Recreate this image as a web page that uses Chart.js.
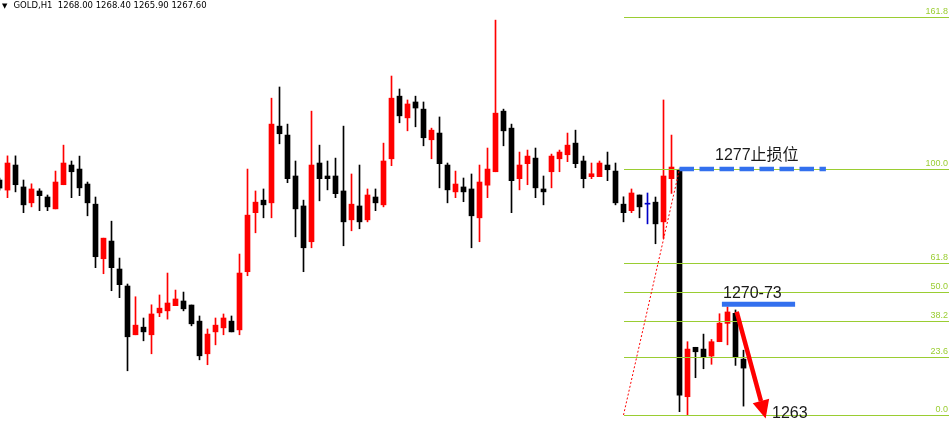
<!DOCTYPE html>
<html>
<head>
<meta charset="utf-8">
<title>GOLD,H1</title>
<script src="https://cdn.jsdelivr.net/npm/chart.js@4.4.0/dist/chart.umd.min.js"></script>
<style>
  html, body { margin: 0; padding: 0; background: #fff; }
  #wrap { position: relative; width: 949px; height: 424px; overflow: hidden; }
  #header { position: absolute; left: 2px; top: 0; font: 8.5px "DejaVu Sans", sans-serif; line-height: 11px; color: #000; white-space: pre; }
  #header .tri { font-size: 7px; margin-right: 6px; }
</style>
</head>
<body>
<div id="wrap">
  <canvas id="chart" width="949" height="424"></canvas>
  <div id="header"><span class="tri">▼</span>GOLD,H1  1268.00 1268.40 1265.90 1267.60</div>
</div>
<script>
// Bougies H1, index 0 = bougie coupée au bord gauche
const opens = [
  1276.01, 1275.56, 1276.68, 1275.70, 1274.99, 1275.52, 1275.25, 1274.72, 1275.80, 1276.68,
  1276.50, 1275.83, 1274.93, 1272.49, 1273.28, 1272.03, 1271.27, 1269.09, 1269.43, 1269.09,
  1270.07, 1270.16, 1270.39, 1270.60, 1270.42, 1269.70, 1268.24, 1269.22, 1269.40, 1269.70,
  1269.31, 1271.91, 1274.55, 1275.11, 1274.99, 1278.42, 1278.02, 1276.19, 1274.85, 1273.25,
  1276.77, 1276.19, 1276.19, 1275.52, 1274.23, 1274.85, 1274.23, 1275.25, 1274.90, 1276.96,
  1279.76, 1278.79, 1279.50, 1279.18, 1277.81, 1278.11, 1276.68, 1275.48, 1275.70, 1275.61,
  1274.32, 1275.78, 1276.38, 1279.09, 1278.33, 1276.07, 1276.74, 1276.99, 1275.61, 1276.38,
  1276.96, 1277.14, 1277.66, 1276.86, 1276.16, 1276.16, 1276.68, 1276.41, 1274.93, 1274.64,
  1275.34, 1274.93, 1275.02, 1274.14, 1276.07, 1276.46, 1266.32, 1268.53, 1268.45, 1268.14,
  1268.78, 1269.60, 1270.05, 1268.00
];
const highs = [
  1276.10, 1277.09, 1277.09, 1276.01, 1275.84, 1275.62, 1275.34, 1276.41, 1277.57, 1276.86,
  1277.08, 1275.92, 1275.25, 1273.41, 1274.17, 1272.52, 1271.36, 1270.79, 1269.84, 1270.43,
  1270.87, 1271.85, 1271.09, 1271.00, 1270.42, 1269.93, 1269.35, 1269.84, 1270.02, 1269.93,
  1272.70, 1276.50, 1275.52, 1275.61, 1279.67, 1280.17, 1278.51, 1276.86, 1275.11, 1279.09,
  1277.57, 1276.86, 1276.99, 1278.42, 1276.28, 1276.68, 1275.61, 1275.61, 1277.66, 1280.66,
  1280.08, 1279.59, 1279.76, 1279.50, 1278.33, 1278.83, 1276.77, 1276.41, 1276.10, 1276.28,
  1276.68, 1277.44, 1283.16, 1279.18, 1278.51, 1277.26, 1277.35, 1277.44, 1276.19, 1277.17,
  1277.35, 1278.11, 1278.24, 1277.08, 1276.77, 1276.86, 1277.26, 1276.77, 1275.26, 1275.61,
  1275.34, 1275.43, 1275.25, 1279.59, 1278.02, 1276.50, 1268.78, 1268.53, 1269.12, 1268.88,
  1270.03, 1270.34, 1270.20, 1268.40
];
const lows = [
  1275.56, 1275.22, 1275.48, 1274.55, 1274.81, 1274.64, 1274.64, 1274.72, 1275.80, 1275.22,
  1275.31, 1274.41, 1272.09, 1271.82, 1271.06, 1270.75, 1267.48, 1269.09, 1268.82, 1268.24,
  1269.90, 1269.79, 1270.39, 1270.16, 1269.49, 1267.97, 1267.75, 1268.64, 1269.09, 1269.22,
  1269.09, 1271.73, 1273.65, 1274.32, 1274.32, 1277.63, 1275.89, 1273.47, 1271.91, 1272.98,
  1275.08, 1275.57, 1275.22, 1273.07, 1273.74, 1273.83, 1274.14, 1274.64, 1274.81, 1276.65,
  1278.57, 1278.21, 1278.39, 1277.54, 1276.96, 1275.66, 1274.99, 1275.22, 1275.04, 1272.98,
  1273.25, 1275.22, 1276.38, 1277.54, 1274.55, 1275.57, 1275.80, 1275.22, 1274.90, 1275.66,
  1276.38, 1276.83, 1276.56, 1275.66, 1276.07, 1276.16, 1275.98, 1274.90, 1274.14, 1274.55,
  1274.32, 1274.05, 1273.16, 1273.40, 1275.41, 1265.65, 1265.50, 1267.17, 1267.57, 1267.77,
  1268.78, 1268.64, 1267.72, 1265.90
];
const closes = [
  1275.65, 1276.77, 1275.80, 1274.90, 1275.61, 1275.31, 1274.81, 1275.92, 1276.77, 1276.38,
  1275.66, 1274.99, 1272.58, 1273.41, 1272.09, 1271.33, 1269.00, 1269.52, 1269.22, 1270.02,
  1270.28, 1270.51, 1270.69, 1270.25, 1269.58, 1268.15, 1269.12, 1269.52, 1269.84, 1269.22,
  1271.85, 1274.44, 1275.02, 1274.90, 1278.51, 1278.08, 1276.07, 1274.72, 1272.98, 1276.68,
  1276.07, 1276.07, 1275.40, 1274.14, 1274.93, 1274.14, 1275.34, 1274.99, 1276.86, 1279.67,
  1278.88, 1279.41, 1279.23, 1277.90, 1278.24, 1276.74, 1275.57, 1275.83, 1275.48, 1274.41,
  1275.92, 1276.50, 1279.00, 1278.21, 1275.98, 1276.68, 1277.08, 1275.66, 1275.48, 1277.08,
  1277.26, 1277.57, 1276.74, 1276.07, 1276.29, 1276.77, 1276.47, 1274.99, 1274.55, 1275.43,
  1274.81, 1274.93, 1274.05, 1276.19, 1276.59, 1266.39, 1268.45, 1268.33, 1268.11, 1268.78,
  1269.61, 1270.11, 1268.11, 1267.60
];

// Fibonacci (du creux au sommet de la chute)
const fibLevels = [0, 23.6, 38.2, 50, 61.8, 100, 161.8];
const fibLow = 1265.5;
const fibHigh = 1276.5;
const fibStart = 78; // bougie du point 1
const fibEnd = 85;   // bougie du point 2

// Annotations
const stopPrice = 1276.5;
const stopRange = [85, 103.3];
const zonePrice = 1270.45;
const zoneRange = [90.3, 99.45];
const arrowFrom = { x: 92.15, y: 1270.12 };
const arrowTo = { x: 95.77, y: 1265.35 };
const labels = [
  { text: "1277止损位", x: 89.44, y: 1276.9 },
  { text: "1270-73", x: 90.44, y: 1270.73 },
  { text: "1263", x: 96.56, y: 1265.38 },
];

// Échelles (fenêtre visible du graphique)
const xMin = 0.0625, xMax = 118.6875;
const yMin = 1265.1, yMax = 1284.06;

const colors = opens.map((o, i) =>
  closes[i] > o ? "#ff0000" : closes[i] < o ? "#000000" : "#0000c8"
);
const bodies = opens.map((o, i) => ({ x: i, y: [o, closes[i]] }));
const wicks = opens.map((o, i) => ({ x: i, y: [lows[i], highs[i]] }));

const overlay = {
  id: "overlay",
  afterDatasetsDraw(chart) {
    const { ctx, chartArea } = chart;
    const xs = chart.scales.x, ys = chart.scales.y;
    const px = (v) => xs.getPixelForValue(v);
    const py = (v) => ys.getPixelForValue(v);
    ctx.save();

    // Niveaux de Fibonacci
    ctx.lineWidth = 1;
    ctx.font = '9px "Liberation Sans", sans-serif';
    ctx.textAlign = "right";
    ctx.textBaseline = "bottom";
    fibLevels.forEach((lv) => {
      const yy = Math.round(py(fibLow + ((fibHigh - fibLow) * lv) / 100)) + 0.5;
      ctx.strokeStyle = "#9acd32";
      ctx.beginPath();
      ctx.moveTo(Math.round(px(fibStart)), yy);
      ctx.lineTo(chartArea.right, yy);
      ctx.stroke();
      ctx.fillStyle = "#9acd32";
      ctx.fillText(lv.toFixed(1), chartArea.right - 1, yy - 1.5);
    });

    // Ligne de tendance pointillée
    ctx.strokeStyle = "#ff0000";
    ctx.setLineDash([2, 2]);
    ctx.beginPath();
    ctx.moveTo(px(fibStart), py(fibLow));
    ctx.lineTo(px(fibEnd), py(fibHigh));
    ctx.stroke();

    // Stop (tirets bleus)
    ctx.strokeStyle = "#3370ee";
    ctx.lineWidth = 4.5;
    ctx.setLineDash([14.5, 5.5]);
    ctx.beginPath();
    ctx.moveTo(px(stopRange[0]), py(stopPrice));
    ctx.lineTo(px(stopRange[1]), py(stopPrice));
    ctx.stroke();

    // Zone 1270-73
    ctx.setLineDash([]);
    ctx.lineWidth = 5;
    ctx.beginPath();
    ctx.moveTo(px(zoneRange[0]), py(zonePrice));
    ctx.lineTo(px(zoneRange[1]), py(zonePrice));
    ctx.stroke();

    // Flèche rouge
    const x1 = px(arrowFrom.x), y1 = py(arrowFrom.y);
    const x2 = px(arrowTo.x), y2 = py(arrowTo.y);
    const len = Math.hypot(x2 - x1, y2 - y1);
    const ux = (x2 - x1) / len, uy = (y2 - y1) / len;
    const head = 18, half = 8.5;
    const bx = x2 - ux * head, by = y2 - uy * head;
    ctx.strokeStyle = "#ff0000";
    ctx.fillStyle = "#ff0000";
    ctx.lineWidth = 4.5;
    ctx.beginPath();
    ctx.moveTo(x1, y1);
    ctx.lineTo(bx, by);
    ctx.stroke();
    ctx.beginPath();
    ctx.moveTo(x2, y2);
    ctx.lineTo(bx - uy * half, by + ux * half);
    ctx.lineTo(bx + uy * half, by - ux * half);
    ctx.closePath();
    ctx.fill();

    // Textes
    ctx.fillStyle = "#1a1a1a";
    ctx.font = '16px "Liberation Sans", "Noto Sans CJK SC", sans-serif';
    ctx.textAlign = "left";
    ctx.textBaseline = "alphabetic";
    labels.forEach((l) => ctx.fillText(l.text, px(l.x), py(l.y)));

    ctx.restore();
  },
};

new Chart(document.getElementById("chart"), {
  type: "bar",
  data: {
    datasets: [
      { label: "corps", data: bodies, backgroundColor: colors, barThickness: 5, minBarLength: 1, grouped: false },
      { label: "mèches", data: wicks, backgroundColor: colors, barThickness: 1, grouped: false },
    ],
  },
  options: {
    responsive: false,
    animation: false,
    events: [],
    layout: { padding: 0 },
    plugins: { legend: { display: false }, tooltip: { enabled: false } },
    scales: {
      x: { type: "linear", min: xMin, max: xMax, offset: false, display: false },
      y: { min: yMin, max: yMax, display: false },
    },
  },
  plugins: [overlay],
});
</script>
</body>
</html>
